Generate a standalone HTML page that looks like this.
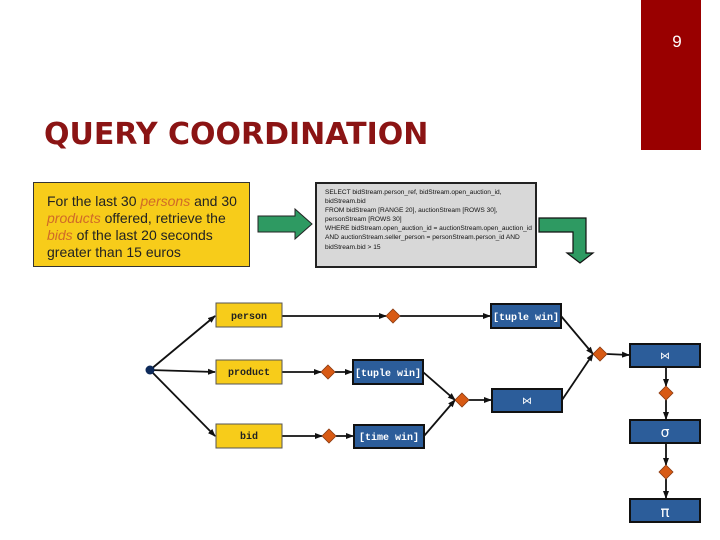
<!DOCTYPE html>
<html><head><meta charset="utf-8"><style>
body{margin:0;width:720px;height:540px;overflow:hidden;background:#fff;font-family:"Liberation Sans",sans-serif;position:relative}
.a{position:absolute}
</style></head><body>
<div class="a" style="left:641px;top:0;width:60px;height:150px;background:#990000"></div>
<div class="a" style="left:641px;top:32px;width:72px;text-align:center;color:#fff;font-size:17px">9</div>
<div class="a" style="left:44px;top:117px;color:#8b1414;font-family:'DejaVu Sans',sans-serif;font-weight:bold;font-size:30px;white-space:nowrap;transform:scaleX(1.0);transform-origin:left">QUERY COORDINATION</div>
<div class="a" style="left:33px;top:182px;width:215px;height:83px;background:#f7cc1a;border:1px solid #333;"></div>
<div class="a" style="left:47px;top:193px;width:205px;font-size:14px;line-height:17px;color:#222">For the last 30 <i style="color:#d06a28">persons</i> and 30 <i style="color:#d06a28">products</i> offered, retrieve the <i style="color:#d06a28">bids</i> of the last 20 seconds greater than 15 euros</div>
<div class="a" style="left:315px;top:182px;width:218px;height:82px;background:#d8d8d8;border:2px solid #222"></div>
<div class="a" style="left:325px;top:188px;width:210px;font-size:6.6px;line-height:9.1px;color:#111">SELECT bidStream.person_ref, bidStream.open_auction_id, bidStream.bid<br>FROM bidStream [RANGE 20], auctionStream [ROWS 30], personStream [ROWS 30]<br>WHERE bidStream.open_auction_id = auctionStream.open_auction_id AND auctionStream.seller_person = personStream.person_id AND bidStream.bid &gt; 15</div>
<svg class="a" style="left:0;top:0" width="720" height="540">
<polygon points="258,216 295,216 295,209 312,224 295,239 295,232 258,232" fill="#2e9a62" stroke="#222" stroke-width="1"/>
<polygon points="539,218 586,218 586,253 593,253 580,263 567,253 573,253 573,232 539,232" fill="#2e9a62" stroke="#111" stroke-width="1.2"/>
<defs><marker id="m" markerWidth="8" markerHeight="8" refX="7" refY="4" orient="auto" markerUnits="userSpaceOnUse"><path d="M0,1 L8,4 L0,7z" fill="#111"/></marker></defs>
<g stroke="#111" stroke-width="1.8" fill="none" marker-end="url(#m)">
<line x1="150" y1="370" x2="215" y2="316"/>
<line x1="150" y1="370" x2="215" y2="372"/>
<line x1="150" y1="370" x2="215" y2="436"/>
<line x1="282" y1="316" x2="386" y2="316"/>
<line x1="400" y1="316" x2="490" y2="316"/>
<line x1="282" y1="372" x2="321" y2="372"/>
<line x1="335" y1="372" x2="352" y2="372"/>
<line x1="282" y1="436" x2="322" y2="436"/>
<line x1="336" y1="436" x2="353" y2="436"/>
<line x1="423" y1="372" x2="455" y2="400"/>
<line x1="424" y1="436" x2="455" y2="400"/>
<line x1="469" y1="400" x2="491" y2="400"/>
<line x1="561" y1="316" x2="593" y2="354"/>
<line x1="562" y1="400" x2="593" y2="354"/>
<line x1="607" y1="354" x2="629" y2="355"/>
<line x1="666" y1="367" x2="666" y2="386"/>
<line x1="666" y1="400" x2="666" y2="419"/>
<line x1="666" y1="443" x2="666" y2="465"/>
<line x1="666" y1="479" x2="666" y2="498"/>
</g>
<circle cx="150" cy="370" r="4.5" fill="#0d2a5a"/>
<g fill="#f7cc1a" stroke="#555" stroke-width="1">
<rect x="216" y="303" width="66" height="24"/><rect x="216" y="360" width="66" height="24"/><rect x="216" y="424" width="66" height="24"/>
</g>
<g fill="#2c5d9a" stroke="#111" stroke-width="2">
<rect x="491" y="304" width="70" height="24"/><rect x="353" y="360" width="70" height="24"/><rect x="354" y="425" width="70" height="23"/>
<rect x="492" y="389" width="70" height="23"/><rect x="630" y="344" width="70" height="23"/><rect x="630" y="420" width="70" height="23"/><rect x="630" y="499" width="70" height="23"/>
</g>
<g fill="#d85a14" stroke="#8a3a10" stroke-width="0.8">
<path d="M393,309 L400,316 L393,323 L386,316z"/><path d="M328,365 L335,372 L328,379 L321,372z"/><path d="M329,429 L336,436 L329,443 L322,436z"/>
<path d="M462,393 L469,400 L462,407 L455,400z"/><path d="M600,347 L607,354 L600,361 L593,354z"/><path d="M666,386 L673,393 L666,400 L659,393z"/><path d="M666,465 L673,472 L666,479 L659,472z"/>
</g>
<g font-family="Liberation Mono,monospace" font-size="10" font-weight="bold" text-anchor="middle">
<text x="249" y="319" fill="#222">person</text><text x="249" y="375" fill="#222">product</text><text x="249" y="439" fill="#222">bid</text>
<text x="526" y="320" fill="#fff">[tuple win]</text><text x="388" y="376" fill="#fff">[tuple win]</text><text x="389" y="440" fill="#fff">[time win]</text>
</g>
<g fill="#fff" text-anchor="middle" font-family="DejaVu Sans,sans-serif">
<text x="527" y="404" font-size="10">⋈</text><text x="665" y="359" font-size="10">⋈</text>
<text x="665" y="437" font-size="14">σ</text><text x="665" y="517" font-size="15">π</text>
</g>
</svg>
</body></html>
